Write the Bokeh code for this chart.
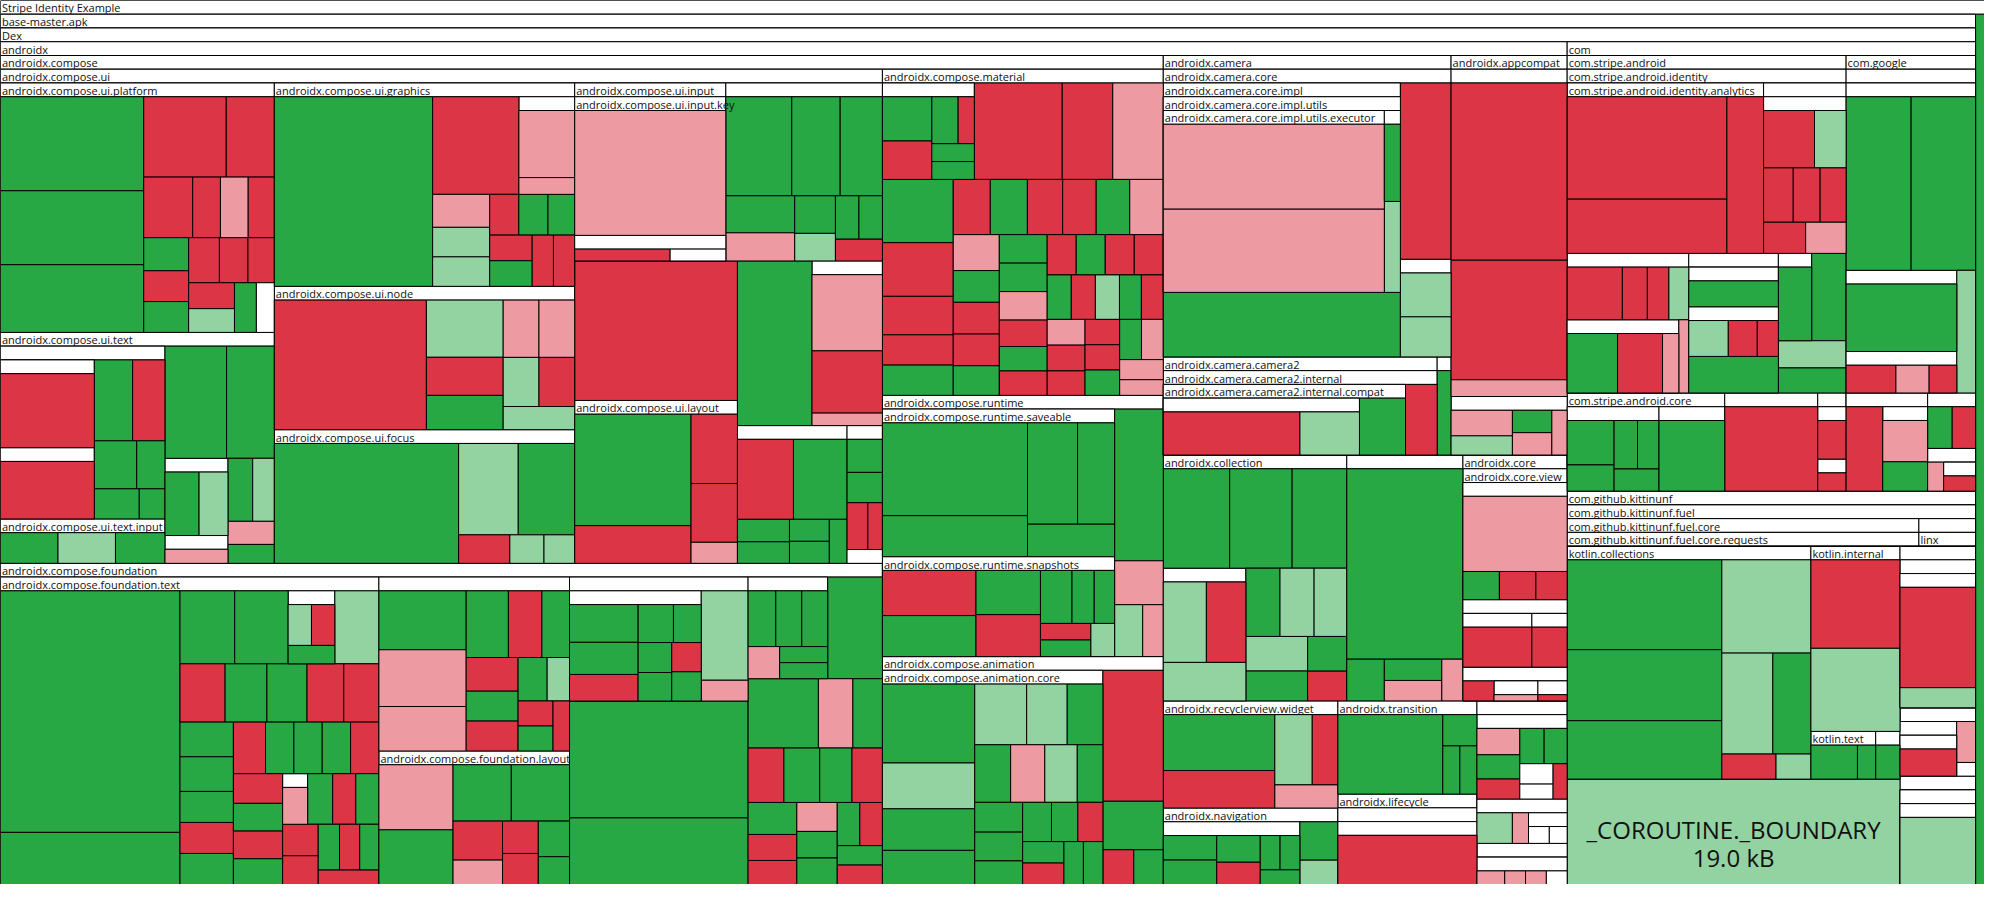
from bokeh.plotting import figure
from bokeh.models import ColumnDataSource, Range1d
from bokeh.core.properties import value
from bokeh.embed import file_html
from bokeh.resources import INLINE

# ---------------------------------------------------------------- data
# Each package: key -> (label, size, contents).  Contents lists the children in
# order: "@key" = sub-package, "<status><size>" = class / leaf
# status: G = smaller (large change), g = smaller (small change),
#         R = bigger (large change),  r = bigger (small change), W = unchanged
TOP = {
    "root": ("Stripe Identity Example", 1, "@apk G8"),
    "apk": ("base-master.apk", 1764, "@dex"),
    "dex": ("Dex", 1, "@androidx @com @kotlin g36:cor @A @D @E"),
    "androidx": ("androidx", 1355, "@compose @camera @appcompat @collection @X1 @core @rv @nav @trans @lifecycle @M"),
    "compose": ("androidx.compose", 989.2, "@ui @foundation @material @runtime @animation"),
}

COMPOSE_UI = {
    "ui": ("androidx.compose.ui", 447.2, "@platform @text @graphics @node @focus @input @U1 R23.3 @layout G12.6 @U2 @U3 @U4"),
    "platform": ("androidx.compose.ui.platform", 70.1, "G13.6 G10.7 G9.8 R6.7 R3.9 R3.0 R1.7 r1.7 R1.6 G1.5 R1.4 G1.4 R1.4 R1.3 R1.2 R1.2 g1.1 G1.1 W0.9"),
    "text": ("androidx.compose.ui.text", 64.9, "@T1 @textinput G7.1 G5.5 @T2 @T3 G1.6 g1.4 r1.1 G0.9"),
    "T1": ("", 29.2, "@T1a @T1b G3.2 R2.7 G2.1 G1.4 G1.4 G0.8"),
    "T1a": ("", 8.5, "R7.1"),
    "T1b": ("", 6.9, "R5.6"),
    "textinput": ("androidx.compose.ui.text.input", 7.5, "G1.8 g1.8 G1.55"),
    "T2": ("", 5, "G2.3 g1.95"),
    "T3": ("", 1.8, "r0.9"),
    "graphics": ("androidx.compose.ui.graphics", 62.7, "G30.3 R8.5 @gr1 r1.9 g1.7 g1.7 R1.2 G1.2 G1.1 R1.1 G1.1 R1.1 R1.1"),
    "gr1": ("", 5.5, "r4.4 r1.1"),
    "node": ("androidx.compose.ui.node", 44.2, "R20.2 g4.5 R3.0 G2.7 r2.1 r2.1 g1.8 R1.8 g1.7"),
    "focus": ("androidx.compose.ui.focus", 41.2, "G22.7 g5.6 G5.3 R1.5 g1.0 g0.9"),
    "input": ("androidx.compose.ui.input", 27.6, "@key"),
    "key": ("androidx.compose.ui.input.key", 1, "r20.5 @K1"),
    "K1": ("", 4.2, "R1.2 W0.7"),
    "U1": ("", 28.6, "G6.4 G4.7 G4.1 G2.5 r1.9 G1.5 g1.1 G1.0 G1.0 R1.0"),
    "layout": ("androidx.compose.ui.layout", 27.2, "G13.3 R4.5 R3.3 R2.8 r1.0"),
    "U2": ("", 11.9, "r5.5 R4.5 r0.9"),
    "U3": ("", 15.5, "R4.6 G4.4 G1.2 G1.15 G0.9 G0.9 G0.8"),
    "U4": ("", 5, "G1.2 G1.1 R1.0 R0.7 W0.5"),
}

FOUNDATION = {
    "foundation": ("androidx.compose.foundation", 290.7, "@ftext @F2 @flayout @F3 G21.4 G12.2 @F4 G5.7 G5.0 r2.45 G2.1 R2.0 G2.0 G1.8 R1.7 G1.6 R1.3 R1.2 r1.2 G1.1 G1.1 G1.0 R1.0 G0.9 R0.9"),
    "ftext": ("androidx.compose.foundation.text", 119.3, "G44.5 G9.6 G4.1 G4.0 @FT1 g3.3 R2.7 G2.5 G2.4 R2.2 R2.1 G1.9 G1.9 G1.7 R1.7 G1.7 R1.7 G1.5 G1.5 G1.5 R1.5 R1.5 G1.4 R1.4 G1.3 @FT2 G1.3 R1.2 G1.2 R1.15 R1.05 G1.0 R0.95 G0.9 R0.9"),
    "FT1": ("", 3.5, "g1.0 R1.0 G0.9"),
    "FT2": ("", 1.3, "r0.85"),
    "F2": ("", 34, "G5.3 r5.1 r4.0 G2.9 R2.3 G1.9 R1.8 G1.6 R1.6 G1.3 g1.0 R0.9 G0.9 R0.85"),
    "flayout": ("androidx.compose.foundation.layout", 26.1, "r5.0 G4.2 G3.4 G3.4 R2.0 r1.25 R1.2 R1.15 G1.15 G0.9"),
    "F3": ("", 22.7, "@F3a g4.3 r1.0"),
    "F3a": ("", 14.9, "G2.7 G2.3 R1.9 G1.4 G1.1 G1.05 G1.0 R0.9 G0.9"),
    "F4": ("", 8.3, "G1.6 G1.5 G1.5 r1.05 G0.8 G0.8"),
}

COMPOSE_OTHER = {
    "material": ("androidx.compose.material", 94, "@mat1 R8.7 R5.0 r5.0 G4.6 R3.9 R2.8 R2.2 G2.2 R2.1 G2.1 R2.0 R1.9 G1.9 r1.9 r1.7 G1.5 R1.5 R1.5 G1.4 G1.4 G1.4 r1.4 R1.3 G1.2 R1.2 R1.2 G1.2 R1.2 R1.2 G1.1 R1.1 g1.1 G1.0 R1.0 r1.0 R1.0 R0.95 R0.9 R0.9 G0.9 G0.9 r0.9 r0.9 r0.7"),
    "mat1": ("", 9.1, "G2.3 R2.0 G1.3 R0.8 G0.8 G0.8"),
    "runtime": ("androidx.compose.runtime", 75.3, "@saveable @snapshots G7.6 r2.2 g1.5 r1.1"),
    "saveable": ("androidx.compose.runtime.saveable", 35.3, "G13.8 G6.1 G5.2 G3.85 G2.9"),
    "snapshots": ("androidx.compose.runtime.snapshots", 23.9, "R4.3 G3.9 G2.9 R2.75 G1.7 G1.2 G1.1 R0.85 G0.85 g0.8"),
    "animation": ("androidx.compose.animation", 65.7, "@acore R8.1 G3.0 R1.1 G1.05"),
    "acore": ("androidx.compose.animation.core", 48.4, "G7.4 g4.3 G3.9 G3.2 g3.2 g2.5 G2.2 G2.1 r2.0 g1.9 G1.5 G1.45 G1.4 G1.15 G1.15 G1.05 R1.0 G0.9 R0.9 G0.85 G0.85"),
}

ANDROIDX_OTHER = {
    "camera": ("androidx.camera", 118, "@ccore @camera2 @Cx"),
    "ccore": ("androidx.camera.core", 85, "@impl R9.2 @Cy"),
    "impl": ("androidx.camera.core.impl", 66.9, "@utils G15.7"),
    "utils": ("androidx.camera.core.impl.utils", 47.6, "@executor @Uz g1.5"),
    "executor": ("androidx.camera.core.impl.utils.executor", 41.3, "r19.3 r18.9"),
    "Uz": ("", 1.5, "G1.4"),
    "Cy": ("", 5.1, "g2.3 g2.1"),
    "camera2": ("androidx.camera.camera2", 27.6, "@internal"),
    "internal": ("androidx.camera.camera2.internal", 1, "@compat R2.3"),
    "compat": ("androidx.camera.camera2.internal.compat", 17.6, "@Cc G2.7"),
    "Cc": ("", 11.5, "R6.2 g2.7"),
    "Cx": ("", 1.4, "G1.2"),
    "appcompat": ("androidx.appcompat", 47.6, "@Ap1"),
    "Ap1": ("", 1, "R21.2 R14.3 r2.0 @Ap2"),
    "Ap2": ("", 7, "r1.6 g1.2 G0.9 r0.9 r0.7"),
    "collection": ("androidx.collection", 46.3, "G6.8 G6.4 G5.6 @Cl1 G2.4 g2.4 g2.3 g2.2 G1.9 G1.4 R1.2"),
    "Cl1": ("", 11.3, "g3.6 R3.3 g3.3"),
    "X1": ("", 29.3, "G22.6 G1.6 G1.25 r1.2 r0.9"),
    "core": ("androidx.core", 26.3, "@cview"),
    "cview": ("androidx.core.view", 1, "@V1n @V2n @V3n"),
    "V1n": ("", 12.5, "r8.0 G1.05 R1.05 R0.9"),
    "V2n": ("", 7.2, "@V2a @V2b"),
    "V2a": ("", 4.1, "R3.15"),
    "V2b": ("", 2.1, "R1.1"),
    "V3n": ("", 3.6, "R0.85 @V3a @V3b"),
    "V3a": ("", 1.2, "r0.8"),
    "V3b": ("", 0.8, "R0.5"),
    "rv": ("androidx.recyclerview.widget", 19.2, "G6.4 R4.3 g2.7 R1.85 r1.5"),
    "nav": ("androidx.navigation", 13.7, "@Nv1 G1.5 g0.95"),
    "Nv1": ("", 8.8, "G1.35 G1.35 G1.2 R1.0 G0.7 G0.7 G0.6"),
    "trans": ("androidx.transition", 13.3, "G8.6 G1.1 G0.85 G0.85"),
    "lifecycle": ("androidx.lifecycle", 12.9, "@Lc1"),
    "Lc1": ("", 1, "@Lc2"),
    "Lc2": ("", 1, "R7.0"),
    "M": ("", 17, "@Me @Mc @Ma"),
    "Ma": ("", 3.8, "@Mb"),
    "Mb": ("", 1, "r0.4 r0.3 r0.3 W0.3"),
    "Mc": ("", 4.1, "g1.1 r0.5 @Md"),
    "Md": ("", 1.2, "W0.35 W0.3"),
    "Me": ("", 7.8, "r1.25 G1.15 R0.95 G0.95 G0.9 W0.75 W0.55 R0.55"),
}

COM = {
    "com": ("com", 205.6, "@stripe @google @kitt"),
    "stripe": ("com.stripe.android", 125, "@identity @score @W1 @W2"),
    "identity": ("com.stripe.android.identity", 94, "@analytics @Ua @V1 @V2 @V3s G3.1 g1.9 G1.75"),
    "analytics": ("com.stripe.android.identity.analytics", 34.5, "R16.8 R8.9 R5.9"),
    "Ua": ("", 14.5, "@Ua1"),
    "Ua1": ("", 1, "R2.9 g1.8 R1.6 R1.45 R1.4 R1.3 r1.25"),
    "V1": ("", 17.5, "R3.2 R1.45 R1.25 g1.15 @V1a r0.8"),
    "V1a": ("", 9, "G3.25 R2.9 r1.05"),
    "V2": ("", 12.9, "@V2x G3.4"),
    "V2x": ("", 8.3, "G2.4 @V2y"),
    "V2y": ("", 4.6, "g1.5 R1.1 R0.8"),
    "V3s": ("", 3, "G2.5"),
    "score": ("com.stripe.android.core", 16.1, "@Sc1 @Sc2"),
    "Sc1": ("", 8.1, "G2.2 G1.3 G1.2 G1.1 G1.05"),
    "Sc2": ("", 5.8, "G4.8"),
    "W1": ("", 9.5, "R8.2"),
    "W2": ("", 2.9, "@W2a @W2b"),
    "W2a": ("", 1.8, "R1.15"),
    "W2b": ("", 1.1, "R0.5"),
    "google": ("com.google", 58, "@Gg1"),
    "Gg1": ("", 1, "@Gg2 @Gg5 @Gg7"),
    "Gg2": ("", 40.1, "G11.3 G11.2 @Gg3 @Gg4 g2.3"),
    "Gg3": ("", 9, "G7.8"),
    "Gg4": ("", 4.6, "R1.8 r1.2 R1.0"),
    "Gg5": ("", 8, "R3.1 @Gg6"),
    "Gg6": ("", 3.8, "r1.55 G1.1"),
    "Gg7": ("", 4.7, "G1.0 R0.95 @Gg8"),
    "Gg8": ("", 2, "r0.5 @Gg9"),
    "Gg9": ("", 1, "R0.4"),
    "kitt": ("com.github.kittinunf", 17.3, "@fuel"),
    "fuel": ("com.github.kittinunf.fuel", 1, "@fcore @fblank"),
    "fcore": ("com.github.kittinunf.fuel.core", 14.9, "@requests"),
    "fblank": ("", 2.4, "@linx"),
    "requests": ("com.github.kittinunf.fuel.core.requests", 1, "W1"),
    "linx": ("linx", 1, "W1"),
}

KOTLIN_ETC = {
    "kotlin": ("kotlin", 84.3, "@kc @ki @kt @Kx"),
    "kc": ("kotlin.collections", 58.8, "G14.3 G11.3 G9.3 g8.55 g5.3 G3.95 R1.4 g0.9"),
    "ki": ("kotlin.internal", 17.1, "R8.2 g7.7"),
    "kt": ("kotlin.text", 3.2, "G2.3 G0.9"),
    "Kx": ("", 1.2, "G0.9"),
    "A": ("", 13.6, "@A1"),
    "A1": ("", 1, "@A2"),
    "A2": ("", 1, "@A3"),
    "A3": ("", 1, "R8.0 g1.6"),
    "D": ("", 5.3, "@D1 r0.9 W0.3"),
    "D1": ("", 3.6, "@D1a"),
    "D1a": ("", 1, "R1.4"),
    "E": ("", 8.4, "@E1"),
    "E1": ("", 1, "@E2"),
    "E2": ("", 1, "g5.2"),
}

LEAF_LABELS = {"cor": ("_COROUTINE._BOUNDARY", "19.0 kB")}

STATUS_COLORS = {"G": "#28a745", "g": "#93d3a2", "R": "#dc3545", "r": "#ed9aa2", "W": "#ffffff"}

# ---------------------------------------------------------------- layout
PKG = {}
for part in (TOP, COMPOSE_UI, FOUNDATION, COMPOSE_OTHER, ANDROIDX_OTHER, COM, KOTLIN_ETC):
    PKG.update(part)

HEADER = 14.0
W, H = 2000.0, 900.0
PHI = (1 + 5 ** 0.5) / 2
INF = float("inf")


def squarify(weights, x0, y0, x1, y1):
    n = len(weights)
    out = [None] * n
    total = float(sum(weights))
    i0 = i1 = 0
    while i0 < n:
        dx, dy = x1 - x0, y1 - y0
        sumv = weights[i1]
        i1 += 1
        minv = maxv = sumv
        alpha = max(dy / dx, dx / dy) / (total * PHI) if dx > 0 and dy > 0 else INF
        beta = sumv * sumv * alpha
        minr = max(maxv / beta, beta / minv)
        while i1 < n:
            nv = weights[i1]
            s2 = sumv + nv
            mn, mx = min(minv, nv), max(maxv, nv)
            beta = s2 * s2 * alpha
            newr = max(mx / beta, beta / mn)
            if newr > minr:
                break
            sumv, minv, maxv, minr = s2, mn, mx, newr
            i1 += 1
        if dx < dy:
            ny = y0 + dy * sumv / total if dy else y1
            k = (x1 - x0) / sumv
            cx = x0
            for j in range(i0, i1):
                w = weights[j] * k
                out[j] = (cx, y0, cx + w, ny)
                cx += w
            y0 = ny
        else:
            nx = x0 + dx * sumv / total if dx else x1
            k = (y1 - y0) / sumv
            cy = y0
            for j in range(i0, i1):
                h = weights[j] * k
                out[j] = (x0, cy, nx, cy + h)
                cy += h
            x0 = nx
        total -= sumv
        i0 = i1
    return out


nodes, leaves, texts, big_labels = {}, {}, {}, []


def add(store, depth, item):
    store.setdefault(depth, []).append(item)


def layout(key, x0, y0, x1, y1, depth):
    label, _, contents = PKG[key]
    add(nodes, depth, (x0, y0, x1, y1))
    if label:
        add(texts, depth, (x0 + 1.5, y0 + HEADER / 2 + 0.5, label))
    iy0 = y0 + HEADER
    iy1 = max(y1, iy0)
    items = []
    for tok in contents.split():
        if tok.startswith("@"):
            items.append(("pkg", tok[1:], PKG[tok[1:]][1]))
        else:
            tag = None
            if ":" in tok:
                tok, tag = tok.split(":")
            items.append(("leaf", (tok[0], tag), float(tok[1:])))
    rects = squarify([it[2] for it in items], x0, iy0, x1, iy1)
    for (kind, ref, _), r in zip(items, rects):
        if kind == "pkg":
            layout(ref, *r, depth + 1)
        else:
            status, tag = ref
            add(leaves, depth + 1, (*r, STATUS_COLORS[status]))
            if tag in LEAF_LABELS:
                big_labels.append(((r[0] + r[2]) / 2, (r[1] + r[3]) / 2, LEAF_LABELS[tag]))


layout("root", 0.0, 0.0, W, H, 0)

# ---------------------------------------------------------------- drawing
p = figure(width=1984, height=884, x_range=Range1d(0, W), y_range=Range1d(H, 0),
           output_backend="svg", toolbar_location=None, min_border=0)
p.axis.visible = False
p.grid.visible = False
p.outline_line_color = None
p.background_fill_color = "white"
p.border_fill_color = "white"

FONT = value("Open Sans")
for d in sorted(set(nodes) | set(leaves) | set(texts)):
    if d in nodes:
        rs = nodes[d]
        p.quad(left=[r[0] for r in rs], right=[r[2] for r in rs],
               top=[r[1] for r in rs], bottom=[max(r[3], r[1] + HEADER) for r in rs],
               fill_color="white", line_color="black", line_width=1)
        p.quad(left=[r[0] for r in rs], right=[r[2] for r in rs],
               top=[r[1] for r in rs], bottom=[r[1] + HEADER for r in rs],
               fill_color="white", line_color="black", line_width=1)
    if d in leaves:
        ls = leaves[d]
        src = ColumnDataSource(dict(l=[r[0] for r in ls], r=[r[2] for r in ls],
                                    t=[r[1] for r in ls], b=[r[3] for r in ls],
                                    c=[r[4] for r in ls]))
        p.quad(left="l", right="r", top="t", bottom="b", fill_color="c",
               line_color="black", line_width=1, source=src)
    if d in texts:
        ts = texts[d]
        src = ColumnDataSource(dict(x=[t[0] for t in ts], y=[t[1] for t in ts], s=[t[2] for t in ts]))
        p.text(x="x", y="y", text="s", source=src, text_font=FONT, text_font_size="11px",
               text_baseline="middle", text_align="left", text_color="#111111")

for cx, cy, (name, size) in big_labels:
    p.text(x=[cx, cx], y=[cy - 2, cy + 26], text=[name, size], text_font=FONT,
           text_font_size="24px", text_baseline="middle", text_align="center",
           text_color="#111111")

open("out.html", "w").write(file_html(p, INLINE))
